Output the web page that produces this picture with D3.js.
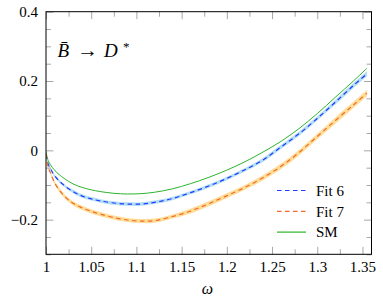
<!DOCTYPE html>
<html lang="en">
<head>
<meta charset="UTF-8">
<title>B to D* chart</title>
<script src="https://d3js.org/d3.v7.min.js"></script>
<style>
  body { margin: 0; background: #fff; }
  text { font-family: "Liberation Serif", "DejaVu Serif", serif; }
</style>
</head>
<body>
<script>
// values
const omega = [1.0, 1.0025, 1.005, 1.01, 1.02, 1.03, 1.04, 1.05, 1.06, 1.075, 1.09, 1.105, 1.12,
               1.14, 1.16, 1.18, 1.2, 1.22, 1.24, 1.26, 1.28, 1.3, 1.32, 1.34, 1.355];
const sm   = [-0.005, -0.030, -0.042, -0.059, -0.081, -0.097, -0.107, -0.114, -0.119, -0.124, -0.126, -0.125, -0.121,
              -0.111, -0.096, -0.078, -0.057, -0.033, -0.005, 0.026, 0.063, 0.106, 0.153, 0.200, 0.237];
const fit6 = [-0.012, -0.040, -0.053, -0.075, -0.101, -0.119, -0.132, -0.140, -0.146, -0.152, -0.155, -0.155, -0.150,
              -0.139, -0.122, -0.103, -0.081, -0.056, -0.028, 0.010, 0.048, 0.092, 0.139, 0.187, 0.221];
const fit6Err = [0.002, 0.003, 0.003, 0.004, 0.004, 0.005, 0.005, 0.005, 0.005, 0.005, 0.005, 0.005, 0.005,
                 0.005, 0.005, 0.005, 0.005, 0.005, 0.006, 0.006, 0.006, 0.006, 0.007, 0.007, 0.007];
const fit7 = [-0.010, -0.050, -0.065, -0.096, -0.131, -0.153, -0.166, -0.176, -0.184, -0.194, -0.201, -0.204, -0.203,
              -0.191, -0.175, -0.154, -0.131, -0.107, -0.079, -0.046, -0.006, 0.040, 0.086, 0.131, 0.165];
const fit7Err = [0.002, 0.004, 0.004, 0.005, 0.006, 0.006, 0.006, 0.006, 0.006, 0.006, 0.006, 0.006, 0.006,
                 0.006, 0.007, 0.007, 0.007, 0.007, 0.007, 0.008, 0.008, 0.008, 0.009, 0.009, 0.009];

const xTicks = [1, 1.05, 1.1, 1.15, 1.2, 1.25, 1.3, 1.35];
const xTickLabels = ["1", "1.05", "1.1", "1.15", "1.2", "1.25", "1.3", "1.35"];
const xMinor = [1.025, 1.075, 1.125, 1.175, 1.225, 1.275, 1.325];
const yTicks = [-0.2, 0, 0.2, 0.4];
const yTickLabels = ["\u22120.2", "0", "0.2", "0.4"];
const yMinor = [-0.3, -0.25, -0.15, -0.1, -0.05, 0.05, 0.1, 0.15, 0.25, 0.3, 0.35];
const legendNames = ["Fit 6", "Fit 7", "SM"];

const width = 383, height = 299;
const pLeft = 46, pRight = 371.5, pTop = 11.7, pBottom = 254.3;
const serif = "'Liberation Serif', 'DejaVu Serif', serif";

const svg = d3.select("body").append("svg")
    .attr("width", width)
    .attr("height", height)
    .attr("font-family", serif);

const x = d3.scaleLinear().domain([1, 1.36]).range([pLeft, pRight]);
const y = d3.scaleLinear().domain([-0.3, 0.4]).range([pBottom, pTop]);

svg.append("clipPath").attr("id", "clip")
  .append("rect")
    .attr("x", pLeft).attr("y", pTop)
    .attr("width", pRight - pLeft).attr("height", pBottom - pTop);

const plot = svg.append("g").attr("clip-path", "url(#clip)");

const idx = d3.range(omega.length);
const curve = d3.curveCatmullRom.alpha(0.5);

const band = (vals, err) => d3.area()
    .x(i => x(omega[i]))
    .y0(i => y(vals[i] - err[i]))
    .y1(i => y(vals[i] + err[i]))
    .curve(curve)(idx);

const line = vals => d3.line()
    .x(i => x(omega[i]))
    .y(i => y(vals[i]))
    .curve(curve)(idx);

// bands
plot.append("path").attr("d", band(fit7, fit7Err)).attr("fill", "#ffdd96");
plot.append("path").attr("d", band(fit6, fit6Err)).attr("fill", "#b4def5");

// lines
plot.append("path").attr("d", line(sm))
    .attr("fill", "none").attr("stroke", "#2cb52c").attr("stroke-width", 1);
plot.append("path").attr("d", line(fit6))
    .attr("fill", "none").attr("stroke", "#1f3cff").attr("stroke-width", 1.2)
    .attr("stroke-dasharray", "4.5,3.5");
plot.append("path").attr("d", line(fit7))
    .attr("fill", "none").attr("stroke", "#f2692e").attr("stroke-width", 1.2)
    .attr("stroke-dasharray", "4.5,3.5");

// ticks (inward, on all sides)
const tickColor = "#a8a8a8";
function styleAxis(g) {
  g.attr("font-family", serif);
  g.select(".domain").remove();
  g.selectAll(".tick line").attr("stroke", tickColor);
  g.selectAll("text")
    .attr("fill", "#000")
    .style("font-family", serif)
    .style("font-size", "15px");
}

svg.append("g").attr("transform", `translate(0,${pBottom})`)
  .call(d3.axisBottom(x).tickValues(xTicks).tickSize(-7.5).tickPadding(7.5)
        .tickFormat((d, i) => xTickLabels[i]))
  .call(styleAxis);
svg.append("g").attr("transform", `translate(0,${pBottom})`)
  .call(d3.axisBottom(x).tickValues(xMinor).tickSize(-5).tickFormat(""))
  .call(styleAxis);
svg.append("g").attr("transform", `translate(0,${pTop})`)
  .call(d3.axisTop(x).tickValues(xTicks).tickSize(-7.5).tickFormat(""))
  .call(styleAxis);
svg.append("g").attr("transform", `translate(0,${pTop})`)
  .call(d3.axisTop(x).tickValues(xMinor).tickSize(-5).tickFormat(""))
  .call(styleAxis);

svg.append("g").attr("transform", `translate(${pLeft},0)`)
  .call(d3.axisLeft(y).tickValues(yTicks).tickSize(-7.5).tickPadding(8)
        .tickFormat((d, i) => yTickLabels[i]))
  .call(styleAxis);
svg.append("g").attr("transform", `translate(${pLeft},0)`)
  .call(d3.axisLeft(y).tickValues(yMinor).tickSize(-5).tickFormat(""))
  .call(styleAxis);
svg.append("g").attr("transform", `translate(${pRight},0)`)
  .call(d3.axisRight(y).tickValues(yTicks).tickSize(-7.5).tickFormat(""))
  .call(styleAxis);
svg.append("g").attr("transform", `translate(${pRight},0)`)
  .call(d3.axisRight(y).tickValues(yMinor).tickSize(-5).tickFormat(""))
  .call(styleAxis);

// frame
svg.append("rect")
    .attr("x", pLeft).attr("y", pTop)
    .attr("width", pRight - pLeft).attr("height", pBottom - pTop)
    .attr("fill", "none").attr("stroke", "#000").attr("stroke-width", 1);

// title inside plot
const title = svg.append("text")
    .attr("y", 57)
    .style("font-family", serif)
    .style("font-size", "19px");
title.append("tspan").attr("x", 57.5).style("font-style", "italic").text("B\u0304");
title.append("tspan").attr("x", 77).attr("font-size", "20px")
    .attr("textLength", 21).attr("lengthAdjust", "spacingAndGlyphs")
    .text("\u2192");
title.append("tspan").attr("x", 104).style("font-style", "italic").text("D");
title.append("tspan").attr("x", 123).attr("dy", -6).style("font-size", "13px").text("*");

// x label
svg.append("text")
    .attr("x", 207.5).attr("y", 294)
    .attr("text-anchor", "middle")
    .style("font-family", serif)
    .style("font-size", "16px").style("font-style", "italic")
    .text("\u03c9");

// legend
const legendColors = ["#1f3cff", "#f2692e", "#2cb52c"];
const legendDash = ["4.5,3.5", "4.5,3.5", null];
const lg = svg.append("g");
legendNames.forEach((name, i) => {
  const yy = 190.5 + i * 20.8;
  lg.append("line")
      .attr("x1", 277).attr("x2", 306)
      .attr("y1", yy).attr("y2", yy)
      .attr("stroke", legendColors[i]).attr("stroke-width", 1.2)
      .attr("stroke-dasharray", legendDash[i]);
  lg.append("text")
      .attr("x", 316).attr("y", yy).attr("dy", "0.35em")
      .style("font-family", serif)
      .style("font-size", "15px")
      .text(name);
});
</script>
</body>
</html>
